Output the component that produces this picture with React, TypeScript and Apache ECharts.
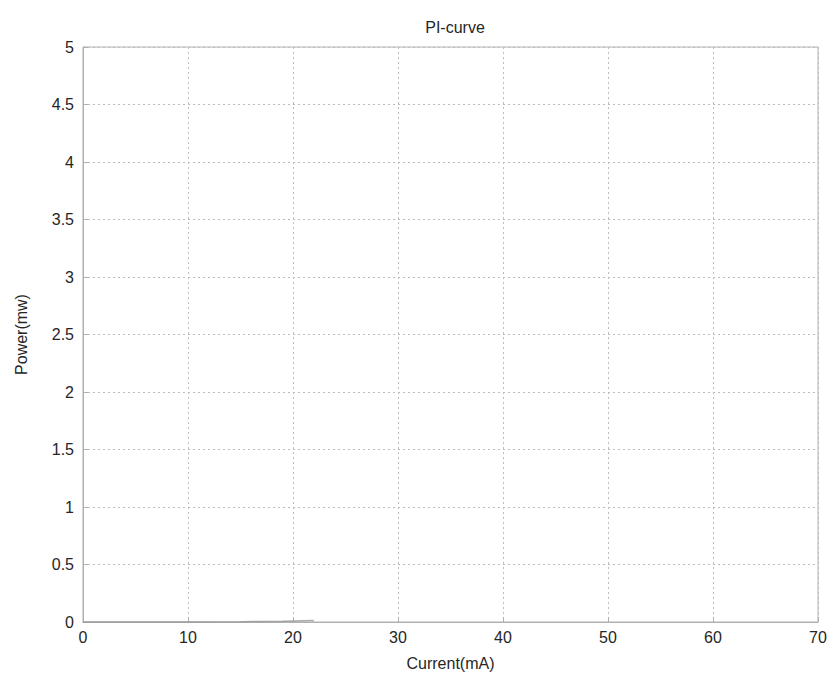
import React, { useEffect, useRef } from "react";
import * as echarts from "echarts";

// Measured PI curve of the laser diode (below threshold the output stays near zero)
const currentMA = [0, 5, 10, 15, 17, 19, 20, 21, 22];
const powerMW = [0, 0, 0, 0.002, 0.004, 0.007, 0.009, 0.011, 0.013];

const xTicks = [0, 10, 20, 30, 40, 50, 60, 70];
const yTicks = [0, 0.5, 1, 1.5, 2, 2.5, 3, 3.5, 4, 4.5, 5];

export default function App() {
  const ref = useRef<HTMLDivElement>(null);

  useEffect(() => {
    if (!ref.current) return;
    const chart = echarts.init(ref.current, undefined, { renderer: "svg" });
    const font = "'Liberation Sans', Arial, sans-serif";
    const textColor = "#262626";
    chart.setOption({
      animation: false,
      backgroundColor: "#ffffff",
      title: {
        text: "PI-curve",
        left: 450,
        top: 14,
        textAlign: "center",
        textStyle: { fontFamily: font, fontSize: 16, fontWeight: "normal", color: textColor },
      },
      grid: { left: 83, right: 17, top: 47, bottom: 61, show: true, borderColor: "#b0b0b0", borderWidth: 1 },
      xAxis: {
        type: "value",
        min: xTicks[0],
        max: xTicks[xTicks.length - 1],
        interval: 10,
        name: "Current(mA)",
        nameLocation: "middle",
        nameGap: 33,
        nameTextStyle: { fontFamily: font, fontSize: 16, color: textColor },
        axisLine: { show: true, lineStyle: { color: "#b0b0b0" } },
        axisTick: { show: true, inside: true, length: 5, lineStyle: { color: "#b0b0b0" } },
        axisLabel: { fontFamily: font, fontSize: 16, color: textColor, margin: 7 },
        splitLine: { show: true, lineStyle: { color: "#bdbdbd", type: [2, 3], width: 1 } },
      },
      yAxis: {
        type: "value",
        min: yTicks[0],
        max: yTicks[yTicks.length - 1],
        interval: 0.5,
        name: "Power(mw)",
        nameLocation: "middle",
        nameGap: 54,
        nameTextStyle: { fontFamily: font, fontSize: 16, color: textColor },
        axisLine: { show: true, lineStyle: { color: "#b0b0b0" } },
        axisTick: { show: true, inside: true, length: 5, lineStyle: { color: "#b0b0b0" } },
        axisLabel: { fontFamily: font, fontSize: 16, color: textColor, margin: 9 },
        splitLine: { show: true, lineStyle: { color: "#bdbdbd", type: [2, 3], width: 1 } },
      },
      series: [
        {
          type: "line",
          data: currentMA.map((c, i) => [c, powerMW[i]]),
          showSymbol: false,
          lineStyle: { color: "#8a8a8a", width: 1.5, opacity: 0.7 },
        },
      ],
    });
    return () => chart.dispose();
  }, []);

  return (
    <div
      ref={ref}
      style={{ position: "fixed", left: 0, top: 0, width: 835, height: 683 }}
    />
  );
}
